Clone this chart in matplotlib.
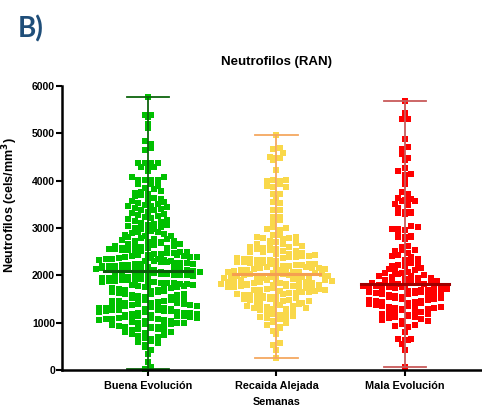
import matplotlib
matplotlib.use("Agg")
import matplotlib.pyplot as plt
import numpy as np


OUT_PATH = "out.png"

CATEGORIES = ["Buena Evolución", "Recaida Alejada", "Mala Evolución"]

# Neutrophil counts (cels/mm3), one list per group.
BUENA = [
    15, 60, 170, 340, 430, 480, 520, 570, 590, 620, 650, 680, 690,
    710, 730, 760, 780, 795, 805, 820, 840, 860, 875, 890, 898,
    905, 915, 930, 945, 955, 965, 975, 985, 995,
    1002, 1012, 1025, 1038, 1046, 1055, 1068, 1075, 1083, 1090, 1098,
    1104, 1110, 1118, 1126, 1135, 1142, 1150, 1160, 1168, 1177, 1185, 1194,
    1203, 1210, 1215, 1222, 1230, 1238, 1245, 1252, 1260, 1268, 1275, 1284, 1293,
    1302, 1308, 1316, 1323, 1330, 1338, 1345, 1352, 1360, 1370, 1378, 1386, 1395,
    1405, 1415, 1425, 1436, 1448, 1457, 1466, 1475, 1485, 1495,
    1505, 1516, 1528, 1540, 1552, 1563, 1575, 1586, 1597,
    1604, 1615, 1627, 1638, 1650, 1661, 1673, 1684, 1695,
    1703, 1712, 1722, 1733, 1744, 1755, 1766, 1777, 1788, 1798,
    1802, 1810, 1820, 1829, 1838, 1847, 1856, 1866, 1876, 1886, 1896,
    1903, 1910, 1918, 1926, 1935, 1943, 1952, 1960, 1968, 1977, 1986, 1995,
    2002, 2010, 2017, 2024, 2032, 2040, 2048, 2056, 2063, 2070, 2078, 2086, 2094,
    2103, 2110, 2117, 2124, 2132, 2140, 2147, 2155, 2163, 2171, 2179, 2187, 2195,
    2204, 2212, 2220, 2229, 2237, 2246, 2254, 2263, 2271, 2280, 2288, 2296,
    2305, 2312, 2320, 2329, 2337, 2346, 2354, 2363, 2371, 2380, 2388, 2396,
    2404, 2413, 2422, 2431, 2440, 2450, 2459, 2468, 2477, 2486,
    2503, 2512, 2521, 2530, 2540, 2549, 2558, 2567, 2576, 2585,
    2606, 2617, 2628, 2639, 2650, 2661, 2672, 2683, 2694,
    2707, 2721, 2735, 2749, 2763, 2777, 2791,
    2808, 2824, 2840, 2856, 2872, 2888,
    2908, 2924, 2940, 2956, 2972, 2988,
    3008, 3024, 3040, 3056, 3072, 3088,
    3105, 3130, 3156, 3173, 3190,
    3210, 3230, 3250, 3270, 3290,
    3310, 3340, 3370, 3390,
    3405, 3421, 3438, 3455, 3472, 3489,
    3506, 3530, 3557, 3574, 3591,
    3610, 3640, 3670, 3690,
    3715, 3740, 3765, 3790,
    3820, 3855, 3890, 3925, 3935,
    4005, 4010, 4012, 4015, 4075, 4085,
    4210, 4285, 4290, 4295, 4365, 4370, 4372, 4378,
    4650, 4690, 4780, 4840, 5110, 5200, 5340, 5390, 5395, 5770,
]

RECAIDA = [
    250, 420, 530, 560, 760, 830, 880, 910, 950, 985,
    1010, 1040, 1070, 1095, 1105, 1125, 1150, 1170, 1190,
    1205, 1220, 1240, 1260, 1280, 1295,
    1303, 1318, 1333, 1348, 1362, 1377, 1392,
    1402, 1414, 1426, 1438, 1450, 1462, 1474, 1486, 1498,
    1503, 1514, 1525, 1536, 1547, 1558, 1569, 1580, 1591,
    1604, 1613, 1622, 1631, 1640, 1650, 1660, 1670, 1680, 1690, 1698,
    1703, 1711, 1719, 1727, 1735, 1743, 1751, 1759, 1767, 1775, 1783, 1791, 1798,
    1802, 1809, 1816, 1823, 1830, 1837, 1844, 1851, 1858, 1865, 1872, 1879, 1886, 1894,
    1903, 1910, 1917, 1924, 1931, 1938, 1945, 1952, 1959, 1966, 1973, 1980, 1988, 1996,
    2004, 2012, 2020, 2028, 2036, 2044, 2052, 2060, 2068, 2076, 2084, 2092,
    2103, 2112, 2121, 2130, 2139, 2148, 2150, 2157, 2166, 2175, 2184, 2193,
    2205, 2214, 2223, 2233, 2242, 2250, 2252, 2261, 2271, 2280, 2290,
    2305, 2314, 2323, 2333, 2342, 2352, 2361, 2371, 2380, 2390,
    2406, 2418, 2430, 2445, 2458, 2470, 2485, 2495,
    2508, 2522, 2536, 2550, 2564, 2578, 2592,
    2606, 2622, 2638, 2654, 2670, 2686,
    2712, 2735, 2758, 2780, 2795,
    2810, 2812, 2850, 2860, 2960, 2980, 3000, 3020, 3130, 3170,
    3230, 3240, 3380, 3385, 3530, 3550, 3640, 3720, 3725,
    3870, 3875, 3880, 3930, 3990, 4000, 4005, 4010, 4230,
    4430, 4470, 4480, 4490, 4590, 4670, 4690, 4970,
]

MALA = [
    70, 420, 550, 630, 640, 650, 660, 800, 905, 930, 955, 980,
    1025, 1040, 1055, 1070, 1090,
    1118, 1130, 1145, 1160, 1175, 1190,
    1218, 1230, 1243, 1256, 1268, 1280, 1295,
    1305, 1316, 1327, 1338, 1349, 1360, 1371, 1382, 1395,
    1405, 1416, 1427, 1438, 1449, 1460, 1471, 1482, 1495,
    1504, 1514, 1524, 1534, 1544, 1554, 1564, 1574, 1584, 1596,
    1604, 1614, 1624, 1634, 1644, 1654, 1664, 1674, 1684, 1696,
    1702, 1711, 1720, 1729, 1738, 1747, 1756, 1765, 1774, 1783, 1793,
    1805, 1816, 1827, 1838, 1850, 1861, 1872, 1883, 1895,
    1906, 1920, 1935, 1950, 1965, 1980, 1993,
    2007, 2024, 2041, 2058, 2075, 2092,
    2115, 2140, 2165, 2190,
    2200, 2210, 2240, 2270, 2330, 2345, 2390, 2410, 2430, 2470,
    2520, 2540, 2545, 2600, 2620, 2760,
    2810, 2815, 2820, 2830, 2850, 2960, 2980, 2985, 3020, 3040,
    3300, 3320, 3325, 3330, 3335, 3420, 3480, 3500, 3560, 3570,
    3600, 3610, 3640, 3720, 3760, 3930, 4040, 4120, 4140, 4200, 4270,
    4430, 4480, 4560, 4670, 4710, 4880, 5300, 5305, 5430, 5680,
]

POINT_COLORS = ["#00c000", "#f9d84a", "#ff0000"]
RANGE_COLORS = ["#0d650d", "#f5a860", "#c85a5a"]
MEDIAN_COLORS = ["#0b5a0b", "#f5a050", "#a00000"]


def row_offsets(values, row_height):
    """GraphPad-like layout: bin values into rows, spread each row out from the centre."""
    values = np.asarray(values, dtype=float)
    offsets = np.zeros(len(values))
    rows = np.floor(values / row_height).astype(int)
    for r in np.unique(rows):
        idx = np.where(rows == r)[0]
        idx = idx[np.argsort(values[idx], kind="stable")]
        n = len(idx)
        # centre-out order of column slots, alternating sides
        slots = [0]
        k = 1
        while len(slots) < n:
            side = 1 if r % 2 == 0 else -1
            slots.extend([side * k, -side * k])
            k += 1
        slots = np.array(slots[:n], dtype=float)
        if n % 2 == 0:
            slots -= slots.mean()
        # interleave so neighbouring values don't line up into a diagonal
        order = np.argsort((np.arange(n) * 7) % n)
        offsets[idx] = slots[order]
    return offsets


def main() -> None:
    plt.rcParams["font.family"] = ["Liberation Sans", "DejaVu Sans"]
    plt.rcParams["font.weight"] = "bold"

    fig = plt.figure(figsize=(4.82, 4.08), dpi=100)
    ax = fig.add_axes([62 / 482, 38 / 408, 420 / 482, 284 / 408])

    col_step = 6.5 / 128.5
    row_height = 128

    groups = [BUENA, RECAIDA, MALA]
    for i, vals in enumerate(groups):
        vals = np.asarray(vals, dtype=float)
        xs = i + row_offsets(vals, row_height) * col_step
        ax.plot(xs, vals, linestyle="none", marker="s", markersize=3.9,
                markeredgewidth=0, color=POINT_COLORS[i], zorder=2, clip_on=False)

        lo, hi, med = vals.min(), vals.max(), np.median(vals)
        ax.plot([i, i], [lo, hi], color=RANGE_COLORS[i], lw=1.3, zorder=3)
        for v in (lo, hi):
            ax.plot([i - 0.165, i + 0.165], [v, v], color=RANGE_COLORS[i], lw=1.3, zorder=3)
        ax.plot([i - 0.34, i + 0.34], [med, med], color=MEDIAN_COLORS[i], lw=2.2, zorder=4)

    ax.set_xlim(-0.669, 2.6)
    ax.set_ylim(0, 6000)
    ax.set_yticks(range(0, 6001, 1000))
    ax.set_xticks(range(len(CATEGORIES)))
    ax.set_xticklabels(CATEGORIES, fontsize=7.8, fontweight="bold")
    ax.tick_params(axis="y", labelsize=7.5, width=1.5, length=4, pad=1)
    ax.tick_params(axis="x", width=1.5, length=4, pad=4)

    for side in ("top", "right"):
        ax.spines[side].set_visible(False)
    for side in ("left", "bottom"):
        ax.spines[side].set_linewidth(1.8)
        ax.spines[side].set_zorder(5)

    ax.set_ylabel("Neutrofilos (cels/mm$^\\mathbf{3}$)", fontsize=9, fontweight="bold")
    ax.yaxis.set_label_coords(-0.1, 0.58)
    ax.set_xlabel("Semanas", fontsize=7.8, fontweight="bold")
    ax.xaxis.set_label_coords((1 + 0.669) / 3.269, -0.095)

    ax.text(1, 6507, "Neutrofilos (RAN)", ha="center", va="center",
            fontsize=9.5, fontweight="bold", clip_on=False)

    fig.text(18 / 482, 1 - 29 / 408, "B)", fontsize=20, fontweight="bold",
             color="#1f4e79", family=["Lato", "DejaVu Sans"], va="center", ha="left")

    fig.savefig(OUT_PATH, dpi=100)
    plt.close(fig)


if __name__ == "__main__":
    main()
